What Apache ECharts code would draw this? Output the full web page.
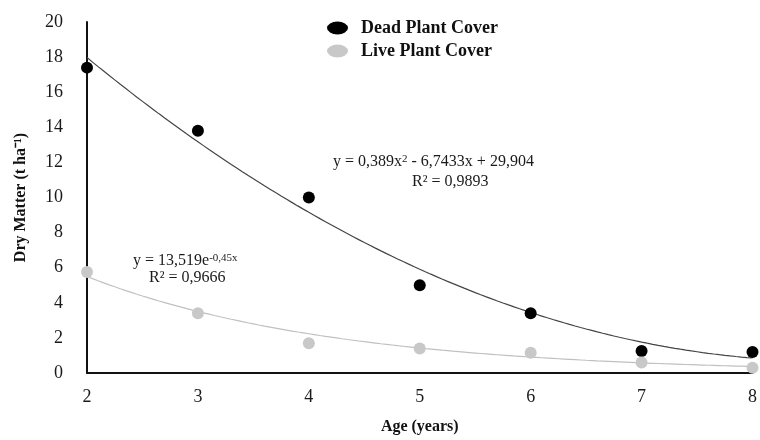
<!DOCTYPE html>
<html>
<head>
<meta charset="utf-8">
<script src="https://cdn.jsdelivr.net/npm/echarts@6/dist/echarts.min.js"></script>
<style>html,body{margin:0;padding:0;background:#fff}#c{width:760px;height:440px}</style>
</head>
<body>
<div id="c"></div>
<script>
// Data
var ages = [2, 3, 4, 5, 6, 7, 8];
var deadCover = [17.4, 13.8, 10.0, 5.0, 3.4, 1.25, 1.2];
var liveCover = [5.75, 3.4, 1.7, 1.4, 1.15, 0.6, 0.3];
var xTicks = [2, 3, 4, 5, 6, 7, 8];
var yTicks = [0, 2, 4, 6, 8, 10, 12, 14, 16, 18, 20];
// Trend line coefficients as printed in the chart
var deadPoly = [0.389, -6.7433, 29.904];   // a x^2 + b x + c
var liveExp = [13.519, -0.45];             // A e^(k x)

var deadTrend = [], liveTrend = [];
for (var i = 0; i <= 120; i++) {
  var x = 2 + i * 0.05;
  deadTrend.push([x, deadPoly[0] * x * x + deadPoly[1] * x + deadPoly[2]]);
  liveTrend.push([x, liveExp[0] * Math.exp(liveExp[1] * x)]);
}
function pairs(ys) { return ages.map(function (a, i) { return [a, ys[i]]; }); }

var serif = '"Liberation Serif", "Times New Roman", serif';
var chart = echarts.init(document.getElementById('c'));
var ellipse = 'path://M0,6.5A10.5,6.5 0 1,0 21,6.5A10.5,6.5 0 1,0 0,6.5Z';
chart.setOption({
  animation: false,
  grid: { left: 87, right: 2, top: 22, bottom: 65, containLabel: false },
  legend: {
    orient: 'vertical', left: 322, top: 14, itemGap: 5,
    itemWidth: 21, itemHeight: 13,
    textStyle: { fontFamily: serif, fontWeight: 'bold', fontSize: 18, color: '#111', padding: [0, 0, 0, 8] },
    data: [
      { name: 'Dead Plant Cover', icon: ellipse },
      { name: 'Live Plant Cover', icon: ellipse }
    ]
  },
  xAxis: {
    type: 'value', min: xTicks[0], max: xTicks[xTicks.length - 1], interval: 1,
    name: 'Age (years)', nameLocation: 'middle', nameGap: 46,
    nameTextStyle: { fontFamily: serif, fontWeight: 'bold', fontSize: 16, color: '#111' },
    axisLine: { lineStyle: { color: '#111', width: 2 } },
    axisTick: { show: false }, splitLine: { show: false },
    axisLabel: { fontFamily: serif, fontSize: 18, color: '#1a1a1a', margin: 15 }
  },
  yAxis: {
    type: 'value', min: yTicks[0], max: yTicks[yTicks.length - 1], interval: 2,
    name: 'Dry Matter (t ha\u207B\u00B9)', nameLocation: 'middle', nameGap: 58,
    nameTextStyle: { fontFamily: serif, fontWeight: 'bold', fontSize: 16, color: '#111' },
    axisLine: { show: true, lineStyle: { color: '#111', width: 2 } },
    axisTick: { show: false }, splitLine: { show: false },
    axisLabel: { fontFamily: serif, fontSize: 18, color: '#1a1a1a', margin: 24 }
  },
  series: [
    { name: 'Dead trend', type: 'line', data: deadTrend, showSymbol: false, smooth: false,
      lineStyle: { color: '#444', width: 1.2 }, silent: true, z: 1 },
    { name: 'Live trend', type: 'line', data: liveTrend, showSymbol: false, smooth: false,
      lineStyle: { color: '#c0c0c0', width: 1.2 }, silent: true, z: 1 },
    { name: 'Dead Plant Cover', type: 'scatter', data: pairs(deadCover), symbol: 'circle', symbolSize: 12,
      itemStyle: { color: '#000', opacity: 1 }, z: 3 },
    { name: 'Live Plant Cover', type: 'scatter', data: pairs(liveCover), symbol: 'circle', symbolSize: 12,
      itemStyle: { color: '#c8c8c8', opacity: 1 }, z: 3 }
  ],
  graphic: [
    { type: 'text', left: 333, top: 154, style: {
      text: '{n|y = 0,389x}{s|2}{n| - 6,7433x + 29,904}',
      rich: { n: { fontFamily: serif, fontSize: 16, fill: '#1a1a1a' },
              s: { fontFamily: serif, fontSize: 11, fill: '#1a1a1a', verticalAlign: 'top' } } } },
    { type: 'text', left: 412, top: 174, style: { text: 'R\u00B2 = 0,9893', font: '16px ' + serif, fill: '#1a1a1a' } },
    { type: 'text', left: 133, top: 253, style: {
      text: '{n|y = 13,519e}{s|-0,45x}',
      rich: { n: { fontFamily: serif, fontSize: 16, fill: '#1a1a1a' },
              s: { fontFamily: serif, fontSize: 11, fill: '#1a1a1a', verticalAlign: 'top' } } } },
    { type: 'text', left: 149, top: 270, style: { text: 'R\u00B2 = 0,9666', font: '16px ' + serif, fill: '#1a1a1a' } }
  ]
});
</script>
</body>
</html>
